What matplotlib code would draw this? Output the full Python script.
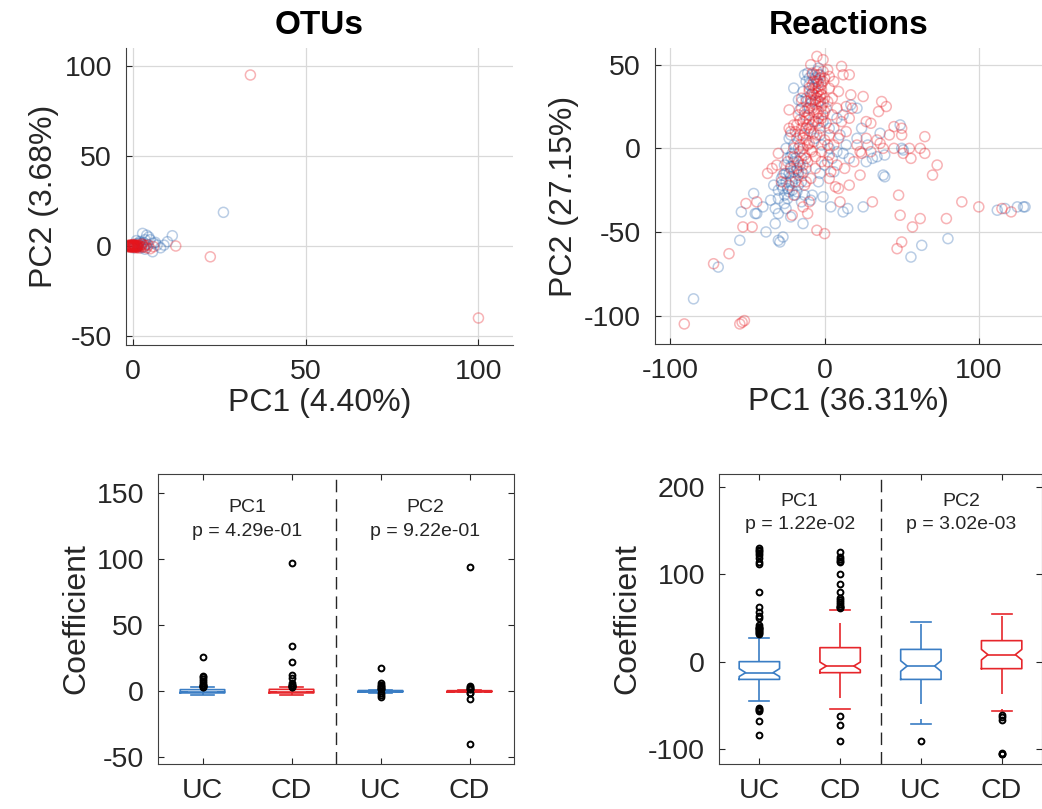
import numpy as np
import matplotlib.pyplot as plt

plt.rcParams['font.family'] = ['Liberation Sans', 'DejaVu Sans']
plt.rcParams['axes.unicode_minus'] = False

# ---- PCA scatter data ----
otu_uc_x = [26.2, 11.4, 10, 5.7, 2.8, 4.6, 0, 0.5, 1, 1.5, 2, 2.5, 3, 3.5, 4, 1, 2, 0.2, -0.5, 3, 6, 7, 8,
            0.5, 1.2, 2.2, 3.5, 4, 5, 6.5, 9, 1.5]
otu_uc_y = [18.7, 5.7, 2.4, -3.2, 7, 5, 0.5, -0.3, 1, -0.5, 1.5, -1, 2, -1.8, 1, 3, 2.5, -1, 0.2, -0.5, 1.5, 0.5, -1,
            0.3, -0.2, 0.4, 3.5, 6, 3.5, 2, 0.5, 1.5]
otu_cd_x = [34, 100, 22.4, 12.4, 6, -1, -0.5, 0, 0.3, 0.6, 1, 1.3, 1.6, 2, 2.4, 2.8, 3.2, 3.6, 4, 4.5, 5,
            -1.2, -0.8, 0.2, 0.8, 1.8, 2.6, 0.5, 1.5, -1, -0.3, 0.1,
            -1.5, -1.2, -1, -0.7, -0.4, -0.2, 0, 0.2, 0.4, 0.7, 0.9, 1.1, 1.4, -1.4, -0.9, -0.6, 0.1, 0.6,
            -0.3, 1.2, -1.1, -0.1, 0.3, -0.5]
otu_cd_y = [95, -40, -6, 0, -0.4, 0, 0.3, -0.2, 0.5, -0.5, 0.2, -0.8, 0.6, 0, -0.3, 0.8, -0.6, 0.3, -1, 0.5, -1.5,
            -0.4, 0.6, 1, -1, -1.2, 1.2, 0, 0, 0.2, -0.6, 0.4,
            0, 0.5, -0.5, 0, 0.4, -0.4, 0, 0.3, -0.2, 0.4, -0.3, 0, 0.3, -0.3, 0.2, -0.3, -0.1, 0.1,
            0.1, -0.5, 0.1, 0.6, -0.7, -0.8]

rxn_uc = [(-85, -90), (-69, -71), (-55, -55), (-54, -38), (-45, -39), (-44, -39), (-46, -27), (-35, -31),
          (-32, -36), (-30, -39), (-30, -55), (-29, -56), (-27, -53), (-25, -36), (-22, -41), (-14, -45),
          (-30, -25), (-27, -24), (-26, -28), (-24, -30), (-28, -18), (-27, -16), (-22, -17), (-20, -14),
          (-18, -13), (-26, -10), (-24, -6), (-22, -5), (-21, -3), (-20, 36), (-14, 34), (-17, 29), (-16, 23),
          (-13, 44), (-11, 45), (-5, 46), (-3, 44), (-5, 41), (-4, 39), (-10, 38), (-23, 6), (-22, 8), (-20, 2),
          (-8, -28), (-9, -31), (-1, -29), (4, -35), (12, -38), (15, -36), (25, -35), (-1, 16), (3, 12), (8, 18),
          (12, 20), (17, 26), (21, 24), (3, 0), (8, -2), (12, -3), (16, -6), (21, 6), (27, -8), (31, -6),
          (34, -5), (36, 9), (39, -4), (38, -16), (39, -17), (49, 14), (50, 0), (51, -1), (56, -65), (63, -58),
          (80, -54), (112, -37), (117, -36), (125, -35), (129, -35), (130, -35), (-19, -18), (-17, -22),
          (-15, -20), (-21, -25), (-18, -26), (-16, -10), (-14, -15), (-20, -8), (-23, -15), (-12, -12),
          (-25, -20), (-24, -24), (-9, 32), (-7, 36), (-6, 42), (-12, 40), (-8, 28), (-13, 20), (-10, 12),
          (-6, 6), (-2, 2), (0, -10), (5, -6), (-4, -20), (1, 24), (-3, 8),
          (-28, -22), (-25, -15), (-23, -26), (-21, -20), (-19, -28), (-17, -14), (-22, -11), (-19, -6),
          (-15, -6), (-26, -33), (-30, -30), (-33, -22), (-13, -28), (-15, -32), (-8, 44), (-10, 42), (-4, 48),
          (-12, 30), (-15, 28), (-10, 24), (-6, 16), (-4, 28), (-14, 8), (-17, 0), (-25, 0), (-3, -15),
          (6, -14), (10, 8), (14, 2), (24, 12), (28, 2), (-32, -45), (-38, -50), (-40, -35)]
rxn_cd = [(-91, -105), (-55, -105), (-53.5, -104), (-52, -103), (-72, -69), (-62, -63), (-53, -47), (-47, -47),
          (-51, -33), (-44, -32), (-37, -15), (-34, -12), (-31, -10), (-30, -3), (-23, 23), (-23, 12), (-22, 10),
          (-5, 55), (-1, 53), (-9, 50), (11, 49), (12, 44), (16, 44), (3, 43), (0, 42), (17, 32), (25, 31),
          (8, 24), (14, 25), (18, 24), (37, 28), (40, 25), (35, 22), (27, 16), (30, 15), (45, 13), (50, 12),
          (65, 7), (50, 8), (55, 0), (62, 0), (65, -3), (56, -6), (73, -10), (70, -16), (45, 0), (51, -3),
          (34, 5), (36, 3), (38, 0), (24, -3), (23, -16), (16, -22), (9, -24), (7, -23), (10, -32), (31, -32),
          (48, -28), (49, -40), (62, -42), (57, -47), (50, -56), (47, -60), (79, -42), (89, -32), (100, -35),
          (115, -36), (121, -38), (-5, -49), (0, -51), (-21, -40), (-11, -39), (-14, -35), (-10, -32),
          (-20, -28), (-23, -22), (-12, -20), (-9, -18), (3, -4), (2, 2), (3, 8), (4, -14), (3, -18), (9, 6),
          (14, 10), (21, 2), (23, -2), (-1, 46), (2, 47), (-20, 0), (-18, 6), (-16, 2), (-14, -10), (-12, -6),
          (11, 16), (16, 18), (-8, 38), (-6, 36), (-4, 34), (-7, 32), (-5, 30), (-3, 28), (-9, 29), (-6, 26),
          (-2, 25), (-4, 22), (-8, 24), (-10, 20), (-12, 18), (-14, 16), (-11, 14), (-15, 12), (-13, 9),
          (-16, 8), (-12, 5), (-10, 3), (-14, 0), (-8, -2), (-6, -5), (-11, -8), (-15, -14), (-17, -16),
          (-19, -20), (-13, -22), (-5, 40), (-2, 38), (-3, 42), (-6, 44), (-10, 34), (-12, 28), (-15, 24),
          (-17, 20), (-18, 14), (-19, 10), (-16, -2), (-20, -5), (-22, -12), (-26, -15), (-2, 32), (0, 30),
          (2, 28), (-1, 20), (1, 15), (-3, 12), (-5, 8), (-7, 4), (0, 5), (-2, -8), (5, 20), (6, 12), (-9, 10),
          (-7, 16), (-4, 18),
          (-10, 36), (-7, 40), (-4, 37), (-2, 35), (-8, 33), (-5, 33), (-3, 31), (-6, 29), (-9, 27), (-7, 23),
          (-5, 21), (-11, 24), (-13, 22), (-10, 17), (-8, 14), (-12, 12), (-14, 6), (-11, 2), (-9, -1),
          (-13, -4), (-17, -8), (-7, 9), (-4, 15), (-2, 18), (0, 22), (-1, 27), (-4, 44), (-8, 45), (-1, 40),
          (3, 36), (5, 30), (-15, 30), (-16, 17), (-20, 14), (-18, -12), (-24, -8), (-28, -20), (-6, -12),
          (-2, -2), (2, -8), (6, 2), (8, -10), (13, -12), (19, -8), (27, 6), (30, -2), (42, 8), (6, 40), (9, 34)]

# ---- box plot summaries: q1, med, q3, notch lo/hi, whisker lo/hi, outliers ----
groups = ["UC", "CD", "UC", "CD"]
otu_stats = [
    dict(q1=-1.2, med=-0.5, q3=1.3, cilo=-0.7, cihi=-0.3, wlo=-2.5, whi=3,
         fl=[26, 11.5, 10.5, 9, 8, 6.5, 5, 4.5, 4, 3.8, 3.5, 3.2]),
    dict(q1=-1.2, med=-0.5, q3=1.5, cilo=-0.7, cihi=-0.3, wlo=-2.5, whi=3.5,
         fl=[97, 34, 22, 12, 10, 6, 5, 4.5, 4, 3.8, 3.5, 3.2]),
    dict(q1=-0.6, med=0, q3=0.6, cilo=-0.1, cihi=0.1, wlo=-1.2, whi=1.3,
         fl=[18, 6, 5, 4, 3, 2.5, 2, 1.8, -1.5, -2.5, -4]),
    dict(q1=-0.5, med=0, q3=0.5, cilo=-0.1, cihi=0.1, wlo=-0.8, whi=0.9,
         fl=[94, 4, 3, 2.5, 2, 1.5, -1, -1.5, -6, -40]),
]
rxn_stats = [
    dict(q1=-20.3, med=-12.6, q3=0, cilo=-17, cihi=-8, wlo=-45, whi=27.5,
         fl=[130, 128, 126, 124, 122, 118, 114, 112, 80, 62, 57, 52, 50, 42, 40, 39, 38, 37, 36, 35, 34, 33, 32,
             -53, -54, -55, -56, -68, -84]),
    dict(q1=-12.6, med=-5, q3=16, cilo=-9.5, cihi=-0.5, wlo=-54.3, whi=59.5,
         fl=[125, 120, 117, 115, 114, 100, 89, 80, 73, 70, 68, 66, 64, 63, 62, 61, -62, -72, -91]),
    dict(q1=-20.3, med=-5, q3=14, cilo=-11, cihi=1, wlo=-71, whi=45, fl=[-91]),
    dict(q1=-8, med=8, q3=24, cilo=2, cihi=14, wlo=-56, whi=55, fl=[-61, -63, -67, -104, -105, -106]),
]
otu_p = ["4.29e-01", "9.22e-01"]
rxn_p = ["1.22e-02", "3.02e-03"]

blue = "#2a66b0"
red = "#e8141c"
bblue = "#3a7dc4"
bred = "#e6262b"
dark = "#262626"

W, H = 1042, 809
fig = plt.figure(figsize=(W / 100, H / 100), dpi=100)


def pix_axes(l, r, t, b):
    return fig.add_axes([l / W, 1 - b / H, (r - l) / W, (b - t) / H])


def style_scatter(ax):
    ax.grid(True, color="#d9d9d9", lw=0.9)
    ax.set_axisbelow(True)
    for s in ["top", "right"]:
        ax.spines[s].set_visible(False)
    for s in ["left", "bottom"]:
        ax.spines[s].set_color("#404040")
    ax.tick_params(direction="in", length=4, labelsize=20.5, colors=dark, pad=10)


def scatter_panel(ax, ux, uy, cx, cy):
    ax.scatter(ux, uy, s=52, facecolors="none", edgecolors=blue, linewidths=1.1, alpha=0.32)
    ax.scatter(cx, cy, s=52, facecolors="none", edgecolors=red, linewidths=1.1, alpha=0.32)


# OTUs
ax1 = pix_axes(126, 513, 48, 345)
scatter_panel(ax1, otu_uc_x, otu_uc_y, otu_cd_x, otu_cd_y)
ax1.set_xlim(-2, 110)
ax1.set_ylim(-55, 110)
ax1.set_xticks([0, 50, 100])
ax1.set_yticks([-50, 0, 50, 100])
style_scatter(ax1)
ax1.set_title("OTUs", fontsize=24, fontweight="bold", pad=10)
ax1.set_xlabel("PC1 (4.40%)", fontsize=23, color=dark, labelpad=2)
ax1.set_ylabel("PC2 (3.68%)", fontsize=23, color=dark, labelpad=4)

# Reactions
ax2 = pix_axes(655, 1042, 48, 344)
ux, uy = zip(*rxn_uc)
cx, cy = zip(*rxn_cd)
scatter_panel(ax2, ux, uy, cx, cy)
ax2.set_xlim(-110, 141)
ax2.set_ylim(-117, 60)
ax2.set_xticks([-100, 0, 100])
ax2.set_yticks([-100, -50, 0, 50])
style_scatter(ax2)
ax2.set_title("Reactions", fontsize=24, fontweight="bold", pad=10)
ax2.set_xlabel("PC1 (36.31%)", fontsize=23, color=dark, labelpad=2)
ax2.set_ylabel("PC2 (27.15%)", fontsize=23, color=dark, labelpad=4)


def box_panel(ax, stats, pvals, ylim, yticks, ptxt_y):
    w, nd = 0.5, 0.08
    wl = (0, (15, 9))
    for i, st in enumerate(stats):
        pos = i + 1
        col = bblue if i % 2 == 0 else bred
        l, r = pos - w / 2, pos + w / 2
        bx = [l, r, r, r - nd, r, r, l, l, l + nd, l, l]
        by = [st["q1"], st["q1"], st["cilo"], st["med"], st["cihi"], st["q3"], st["q3"],
              st["cihi"], st["med"], st["cilo"], st["q1"]]
        ax.plot(bx, by, color=col, lw=1.2)
        ax.plot([l + nd, r - nd], [st["med"], st["med"]], color=col, lw=1.2)
        ax.plot([pos, pos], [st["q3"], st["whi"]], color=col, lw=1.2, ls=wl)
        ax.plot([pos, pos], [st["q1"], st["wlo"]], color=col, lw=1.2, ls=wl)
        ax.plot([pos - 0.125, pos + 0.125], [st["whi"]] * 2, color=col, lw=1.2)
        ax.plot([pos - 0.125, pos + 0.125], [st["wlo"]] * 2, color=col, lw=1.2)
        ax.plot([pos] * len(st["fl"]), st["fl"], "o", ms=4.2, mfc="none", mec="black", mew=1.4)
    ax.axvline(2.5, color=dark, lw=1.0, ls=(0, (9, 5)))
    for j, pc in enumerate(["PC1", "PC2"]):
        xc = 1.5 + 2 * j
        ax.text(xc, ptxt_y[0], pc, ha="center", va="center", fontsize=14, color=dark)
        ax.text(xc, ptxt_y[1], "p = " + pvals[j], ha="center", va="center", fontsize=14, color=dark)
    ax.set_xlim(0.5, 4.5)
    ax.set_ylim(*ylim)
    ax.set_yticks(yticks)
    ax.set_xticks([1, 2, 3, 4])
    ax.set_xticklabels(groups)
    for s in ax.spines.values():
        s.set_color("#404040")
    ax.tick_params(direction="in", length=4, top=True, right=True, labelsize=20.5, colors=dark, pad=10)
    ax.set_ylabel("Coefficient", fontsize=23, color=dark, labelpad=4)


ax3 = pix_axes(158, 514, 474, 764)
box_panel(ax3, otu_stats, otu_p, (-55, 164.5), [-50, 0, 50, 100, 150], (139, 121))

ax4 = pix_axes(719, 1042, 474, 764)
box_panel(ax4, rxn_stats, rxn_p, (-117, 214.5), [-100, 0, 100, 200], (183.5, 157))

fig.savefig("out.png", dpi=100)
